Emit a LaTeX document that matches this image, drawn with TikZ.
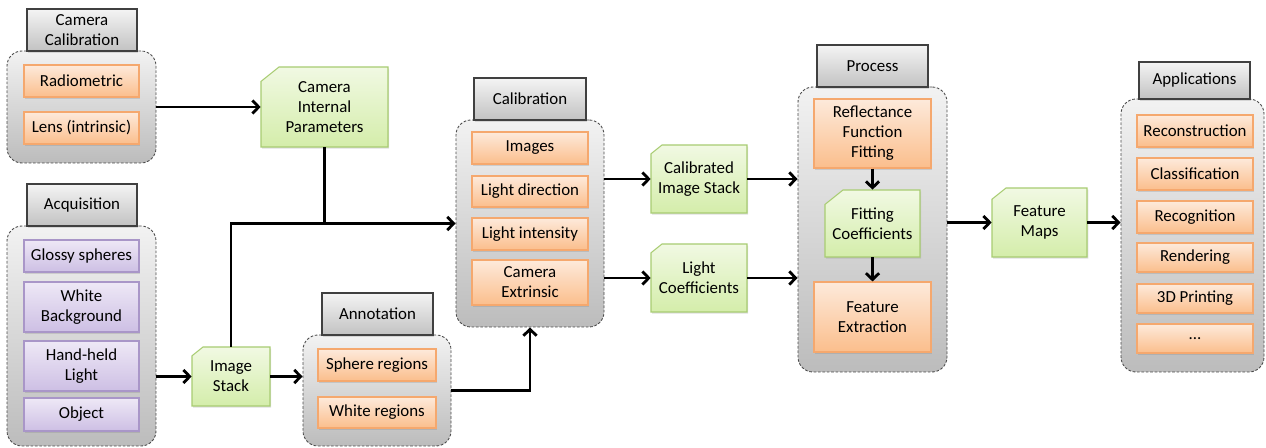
\documentclass[tikz,border=0pt]{standalone}
\usepackage{fontspec}
\setmainfont{Carlito}
\usetikzlibrary{arrows.meta,fit,shadows}
\definecolor{ortop}{HTML}{FDEADB}
\definecolor{orbot}{HTML}{FBBE8C}
\definecolor{orline}{HTML}{F5A86E}
\definecolor{putop}{HTML}{EEE8F6}
\definecolor{pubot}{HTML}{CDBFE4}
\definecolor{puline}{HTML}{A996C8}
\definecolor{grtop}{HTML}{F1F9E3}
\definecolor{grbot}{HTML}{D4EDAA}
\definecolor{grline}{HTML}{A8CC72}
\definecolor{tabtop}{HTML}{F4F4F4}
\definecolor{tabbot}{HTML}{C2C2C2}
\definecolor{tabline}{HTML}{404040}
\definecolor{grptop}{HTML}{F2F2F2}
\definecolor{grpbot}{HTML}{BCBCBC}
\definecolor{grpline}{HTML}{4A4A4A}
\newcommand\lbl{\fontsize{9.6}{11.4}\selectfont}
\tikzset{
  x={(0.02cm,0)}, y={(0,-0.02cm)},
  shad/.style={drop shadow={opacity=0.25,shadow xshift=0.7pt,shadow yshift=-0.9pt}},
  grp/.style={draw=grpline, dash pattern=on 1.5pt off 1pt, line width=0.5pt,
    rounded corners=0.3cm, top color=grptop, bottom color=grpbot, inner sep=0},
  tabbox/.style={draw=tabline, line width=0.6pt, top color=tabtop, bottom color=tabbot,
    inner sep=0, align=center, font=\lbl, shad},
  item/.style={draw=orline, line width=0.6pt, top color=ortop, bottom color=orbot,
    inner sep=0, align=center, font=\lbl, shad},
  pitem/.style={item, draw=puline, top color=putop, bottom color=pubot},
  docshade/.style={draw=grline, line width=0.6pt, top color=grtop, bottom color=grbot, shad},
  doctext/.style={inner sep=0, align=center, font=\lbl},
  arr/.style={line width=1.6pt, -{Straight Barb[length=3.6pt,width=7.5pt]}},
  ln/.style={line width=1.6pt}
}
\newcommand\docbox[6][12]{%
  \shade[docshade] (#3,#4+0.8*#1) -- (#3+#1,#4) -- (#5,#4) -- (#5,#6) -- (#3,#6) -- cycle;
  \node[doctext, fit={(#3,#4)(#5,#6)}] (#2) {};}
\begin{document}
\begin{tikzpicture}
\useasboundingbox (0,0) rectangle (1266,448);
% ---------- Camera Calibration
\node[grp, fit={(7,51)(156,163)}] (camc) {};
\node[tabbox, fit={(27,9)(137,51)}] (camt) {};
\node[font=\lbl, align=center] at (camt.center) {Camera\\Calibration};
\node[item, fit={(24,65)(139,97)}] (rad) {};
\node[font=\lbl] at (rad.center) {Radiometric};
\node[item, fit={(24,112)(139,144)}] (lens) {};
\node[font=\lbl] at (lens.center) {Lens (intrinsic)};
% ---------- Acquisition
\node[grp, fit={(7,226)(156,446)}] (acqc) {};
\node[tabbox, fit={(27,184)(137,226)}] (acqt) {};
\node[font=\lbl] at (acqt.center) {Acquisition};
\node[pitem, fit={(24,240)(139,272)}] (glossy) {};
\node[font=\lbl] at (glossy.center) {Glossy spheres};
\node[pitem, fit={(24,282)(139,332)}] (white) {};
\node[font=\lbl, align=center] at (white.center) {White\\Background};
\node[pitem, fit={(24,341)(139,391)}] (hand) {};
\node[font=\lbl, align=center] at (hand.center) {Hand-held\\Light};
\node[pitem, fit={(24,398)(139,431)}] (obj) {};
\node[font=\lbl] at (obj.center) {Object};
% ---------- data boxes
\docbox[18]{cip}{261}{67}{388}{147}
\node[font=\lbl, align=center] at (cip.center) {Camera\\Internal\\Parameters};
\docbox[11]{imgs}{192}{347}{270}{406}
\node[font=\lbl, align=center] at (imgs.center) {Image\\Stack};
% ---------- Annotation
\node[grp, fit={(303,335)(451,446)}] (annc) {};
\node[tabbox, fit={(322,293)(433,335)}] (annt) {};
\node[font=\lbl] at (annt.center) {Annotation};
\node[item, fit={(318,349)(436,381)}] (sph) {};
\node[font=\lbl] at (sph.center) {Sphere regions};
\node[item, fit={(318,397)(436,428)}] (whr) {};
\node[font=\lbl] at (whr.center) {White regions};
% ---------- Calibration
\node[grp, fit={(456,120)(604,327)}] (calc) {};
\node[tabbox, fit={(474,78)(586,120)}] (calt) {};
\node[font=\lbl] at (calt.center) {Calibration};
\node[item, fit={(472,132)(588,164)}] (imgi) {};
\node[font=\lbl] at (imgi.center) {Images};
\node[item, fit={(472,176)(588,207)}] (ldir) {};
\node[font=\lbl] at (ldir.center) {Light direction};
\node[item, fit={(472,218)(588,250)}] (lint) {};
\node[font=\lbl] at (lint.center) {Light intensity};
\node[item, fit={(472,260)(588,305)}] (cext) {};
\node[font=\lbl, align=center] at (cext.center) {Camera\\Extrinsic};
\docbox[11]{cis}{651}{145}{747}{213}
\node[font=\lbl, align=center] at (cis.center) {Calibrated\\Image Stack};
\docbox[11]{lc}{651}{244}{747}{312}
\node[font=\lbl, align=center] at (lc.center) {Light\\Coefficients};
% ---------- Process
\node[grp, fit={(798,87)(947,372)}] (procc) {};
\node[tabbox, fit={(817,45)(928,87)}] (proct) {};
\node[font=\lbl] at (proct.center) {Process};
\node[item, fit={(814,99)(931,168)}] (rff) {};
\node[font=\lbl, align=center] at (rff.center) {Reflectance\\Function\\Fitting};
\docbox[18]{fc}{825}{190}{920}{257}
\node[font=\lbl, align=center] at (fc.center) {Fitting\\Coefficients};
\node[item, fit={(814,282)(931,352)}] (fe) {};
\node[font=\lbl, align=center] at (fe.center) {Feature\\Extraction};
\docbox[14]{fm}{992}{188}{1087}{257}
\node[font=\lbl, align=center] at (fm.center) {Feature\\Maps};
% ---------- Applications
\node[grp, fit={(1121,99)(1264,372)}] (appc) {};
\node[tabbox, fit={(1139,62)(1250,99)}] (appt) {};
\node[font=\lbl] at (appt.center) {Applications};
\node[item, fit={(1137,115)(1253,147)}] (rec) {};
\node[font=\lbl] at (rec.center) {Reconstruction};
\node[item, fit={(1137,158)(1253,190)}] (cla) {};
\node[font=\lbl] at (cla.center) {Classification};
\node[item, fit={(1137,201)(1253,233)}] (rcg) {};
\node[font=\lbl] at (rcg.center) {Recognition};
\node[item, fit={(1137,243)(1253,272)}] (ren) {};
\node[font=\lbl] at (ren.center) {Rendering};
\node[item, fit={(1137,284)(1253,313)}] (prt) {};
\node[font=\lbl] at (prt.center) {3D Printing};
\node[item, fit={(1137,324)(1253,353)}] (dots) {};
\node[font=\lbl] at (dots.center) {...};
% ---------- connectors
\draw[arr] (camc.east |- cip.west) -- (cip.west);
\draw[arr] (acqc.east |- imgs.west) -- (imgs.west);
\draw[arr] (imgs.east) -- (imgs.east -| annc.west);
\draw[arr] (imgs.north) |- (calc.west);
\draw[ln] (cip.south) -- (cip.south |- calc.west);
\draw[arr] (annc.east) -| (calc.south);
\draw[arr] (calc.east |- cis.west) -- (cis.west);
\draw[arr] (calc.east |- lc.west) -- (lc.west);
\draw[arr] (cis.east) -- (cis.east -| procc.west);
\draw[arr] (lc.east) -- (lc.east -| procc.west);
\draw[arr] (rff.south) -- (fc.north);
\draw[arr] (fc.south) -- (fe.north);
\draw[arr] (procc.east |- fm.west) -- (fm.west);
\draw[arr] (fm.east) -- (fm.east -| appc.west);
\end{tikzpicture}
\end{document}
